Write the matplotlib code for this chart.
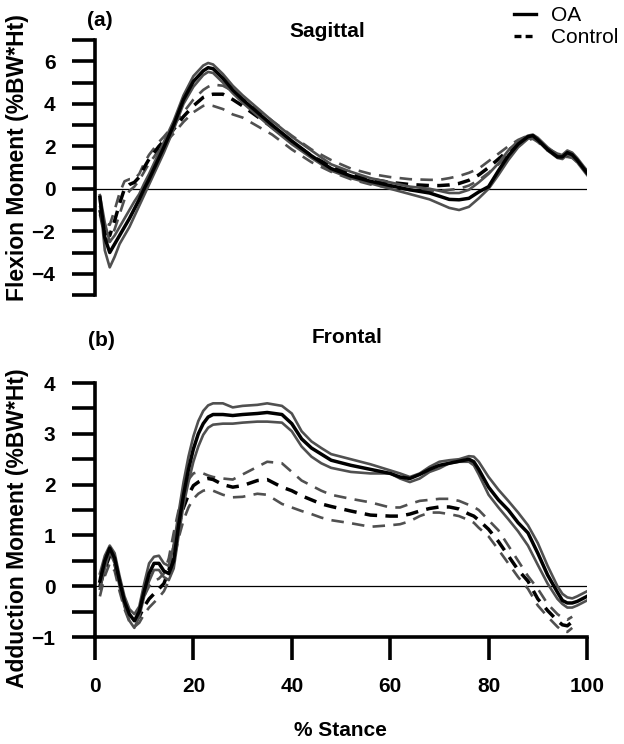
import matplotlib
matplotlib.use("Agg")
import matplotlib.pyplot as plt
from matplotlib.lines import Line2D
from matplotlib.ticker import FixedLocator, MultipleLocator

plt.rcParams["font.family"] = ["Liberation Sans", "DejaVu Sans"]
plt.rcParams["font.weight"] = "bold"
plt.rcParams["font.size"] = 15
plt.rcParams["lines.scale_dashes"] = False

# ---- (a) Sagittal: flexion moment (%BW*Ht) ----
x_sag = [1, 2, 3, 4, 5, 6, 7, 8, 9, 10, 11, 12, 13, 14, 16, 18, 20, 22, 23, 24,
         26, 28, 30, 33, 36, 40, 44, 48, 52, 56, 60, 64, 68, 70, 72, 74, 76, 78,
         80, 82, 84, 86, 88, 89, 90, 92, 94, 95, 96, 97, 98, 100]
sag_oa = [-0.4, -2.3, -3.0, -2.6, -2.2, -1.8, -1.4, -0.95, -0.5, 0.0, 0.45, 0.95,
          1.45, 1.95, 3.0, 4.2, 5.05, 5.55, 5.7, 5.65, 5.2, 4.65, 4.2, 3.6, 3.0,
          2.25, 1.55, 0.95, 0.6, 0.35, 0.15, -0.05, -0.2, -0.35, -0.5, -0.52,
          -0.45, -0.15, 0.1, 0.85, 1.55, 2.1, 2.45, 2.5, 2.3, 1.85, 1.5, 1.5,
          1.7, 1.6, 1.35, 0.75]
sag_oa_hi = [-0.3, -1.6, -2.5, -2.2, -1.8, -1.4, -1.0, -0.6, -0.25, 0.25, 0.7,
             1.2, 1.7, 2.2, 3.2, 4.4, 5.3, 5.8, 5.92, 5.85, 5.4, 4.85, 4.4, 3.8,
             3.2, 2.45, 1.8, 1.15, 0.8, 0.5, 0.3, 0.1, 0.0, -0.1, -0.2, -0.2,
             -0.05, 0.3, 0.7, 1.2, 1.8, 2.25, 2.5, 2.55, 2.4, 1.95, 1.6, 1.6,
             1.8, 1.7, 1.45, 0.85]
sag_oa_lo = [-0.5, -2.9, -3.7, -3.2, -2.6, -2.2, -1.8, -1.3, -0.8, -0.3, 0.2,
             0.7, 1.2, 1.7, 2.8, 4.0, 4.8, 5.35, 5.5, 5.45, 5.0, 4.5, 4.05, 3.45,
             2.85, 2.1, 1.45, 0.85, 0.5, 0.25, 0.0, -0.25, -0.5, -0.7, -0.9,
             -1.0, -0.85, -0.45, 0.0, 0.65, 1.35, 1.95, 2.35, 2.4, 2.25, 1.8,
             1.45, 1.4, 1.6, 1.5, 1.25, 0.65]
sag_con = [-1.0, -2.0, -2.2, -1.5, -0.7, 0.0, 0.2, 0.3, 0.55, 1.0, 1.4, 1.7,
           2.0, 2.25, 2.8, 3.4, 3.9, 4.3, 4.4, 4.45, 4.45, 4.2, 3.9, 3.4, 2.9,
           2.2, 1.55, 1.05, 0.7, 0.45, 0.3, 0.2, 0.15, 0.15, 0.18, 0.25, 0.4,
           0.65, 1.0, 1.4, 1.8, 2.15, 2.4, 2.45, 2.3, 1.85, 1.6, 1.55, 1.6,
           1.55, 1.3, 0.8]
sag_con_hi = [-0.8, -1.6, -1.7, -1.0, -0.2, 0.35, 0.45, 0.45, 0.7, 1.2, 1.6,
              1.9, 2.2, 2.45, 3.0, 3.6, 4.2, 4.65, 4.8, 4.9, 4.85, 4.6, 4.25,
              3.75, 3.2, 2.5, 1.85, 1.35, 0.95, 0.7, 0.55, 0.45, 0.42, 0.42,
              0.5, 0.6, 0.75, 0.95, 1.3, 1.65, 2.0, 2.3, 2.5, 2.5, 2.35, 1.9,
              1.65, 1.6, 1.7, 1.6, 1.35, 0.85]
sag_con_lo = [-1.2, -2.3, -2.5, -1.9, -1.2, -0.5, -0.1, 0.1, 0.4, 0.8, 1.2,
              1.5, 1.85, 2.1, 2.6, 3.15, 3.6, 3.9, 3.95, 3.9, 3.75, 3.5, 3.35,
              2.95, 2.55, 1.85, 1.25, 0.8, 0.45, 0.2, 0.05, -0.05, -0.1, -0.1,
              -0.05, 0.0, 0.15, 0.4, 0.75, 1.15, 1.6, 2.0, 2.3, 2.35, 2.2, 1.8,
              1.55, 1.5, 1.5, 1.45, 1.25, 0.75]

# ---- (b) Frontal: adduction moment (%BW*Ht) ----
x_fro = [1, 2, 3, 4, 5, 6, 7, 8, 9, 10, 11, 12, 13, 14, 15, 16, 17, 18, 19, 20,
         21, 22, 23, 24, 26, 28, 30, 33, 35, 38, 40, 42, 44, 46, 48, 52, 56, 60,
         62, 64, 66, 68, 70, 72, 74, 76, 77, 78, 80, 82, 84, 86, 88, 90, 92, 94,
         95, 96, 97, 98, 99, 100]
fro_oa = [0.1, 0.5, 0.75, 0.55, 0.1, -0.3, -0.55, -0.68, -0.5, -0.1, 0.25,
          0.45, 0.45, 0.3, 0.25, 0.5, 1.2, 1.8, 2.3, 2.7, 3.0, 3.2, 3.33, 3.38,
          3.38, 3.36, 3.38, 3.4, 3.42, 3.38, 3.2, 2.9, 2.72, 2.6, 2.48, 2.38,
          2.3, 2.22, 2.15, 2.12, 2.2, 2.3, 2.38, 2.42, 2.46, 2.5, 2.45, 2.3,
          1.95, 1.7, 1.5, 1.25, 1.05, 0.65, 0.22, -0.12, -0.28, -0.33, -0.33,
          -0.3, -0.25, -0.2]
fro_oa_hi = [0.25, 0.6, 0.8, 0.65, 0.2, -0.2, -0.45, -0.55, -0.4, 0.05, 0.45,
             0.58, 0.6, 0.45, 0.4, 0.8, 1.45, 2.05, 2.55, 2.95, 3.25, 3.45,
             3.56, 3.6, 3.6, 3.52, 3.55, 3.57, 3.6, 3.55, 3.4, 3.05, 2.85, 2.72,
             2.6, 2.5, 2.4, 2.28, 2.22, 2.15, 2.22, 2.35, 2.45, 2.48, 2.5, 2.56,
             2.55, 2.45, 2.15, 1.9, 1.68, 1.45, 1.2, 0.85, 0.4, 0.0, -0.15,
             -0.22, -0.24, -0.2, -0.15, -0.1]
fro_oa_lo = [-0.05, 0.35, 0.68, 0.45, 0.0, -0.4, -0.68, -0.82, -0.6, -0.2, 0.1,
             0.32, 0.32, 0.18, 0.12, 0.35, 1.0, 1.6, 2.05, 2.45, 2.75, 2.98,
             3.12, 3.18, 3.2, 3.2, 3.22, 3.24, 3.24, 3.22, 3.05, 2.75, 2.55,
             2.42, 2.33, 2.25, 2.22, 2.22, 2.12, 2.05, 2.12, 2.25, 2.32, 2.42,
             2.45, 2.45, 2.38, 2.2, 1.8, 1.55, 1.32, 1.08, 0.8, 0.42, 0.05,
             -0.25, -0.35, -0.42, -0.42, -0.38, -0.33, -0.28]
x_fro_con = x_fro[:59]
fro_con = [0.0, 0.35, 0.6, 0.45, 0.05, -0.35, -0.6, -0.7, -0.6, -0.4, -0.25,
           -0.15, -0.05, 0.05, 0.3, 0.75, 1.2, 1.55, 1.8, 1.98, 2.05, 2.1, 2.12,
           2.1, 2.0, 1.95, 1.98, 2.08, 2.1, 1.95, 1.88, 1.78, 1.7, 1.62, 1.57,
           1.48, 1.4, 1.38, 1.38, 1.42, 1.48, 1.53, 1.56, 1.56, 1.52, 1.42,
           1.38, 1.3, 1.12, 0.88, 0.6, 0.32, 0.1, -0.25, -0.48, -0.68, -0.76,
           -0.78, -0.7]
fro_con_hi = [0.15, 0.5, 0.72, 0.55, 0.15, -0.25, -0.5, -0.58, -0.45, -0.2,
              0.0, 0.1, 0.15, 0.25, 0.55, 1.05, 1.5, 1.85, 2.1, 2.22, 2.25,
              2.22, 2.18, 2.15, 2.12, 2.1, 2.2, 2.35, 2.45, 2.42, 2.25, 2.08,
              1.98, 1.88, 1.8, 1.72, 1.65, 1.55, 1.55, 1.62, 1.68, 1.7, 1.72,
              1.72, 1.68, 1.6, 1.56, 1.5, 1.3, 1.1, 0.8, 0.5, 0.2, -0.05, -0.35,
              -0.55, -0.62, -0.66, -0.6]
fro_con_lo = [-0.2, 0.2, 0.45, 0.3, -0.1, -0.45, -0.7, -0.8, -0.72, -0.55,
              -0.42, -0.32, -0.22, -0.1, 0.1, 0.5, 0.95, 1.3, 1.55, 1.72, 1.82,
              1.88, 1.9, 1.88, 1.8, 1.75, 1.76, 1.82, 1.8, 1.62, 1.55, 1.48,
              1.42, 1.35, 1.3, 1.24, 1.17, 1.2, 1.22, 1.28, 1.38, 1.45, 1.45,
              1.42, 1.38, 1.3, 1.25, 1.15, 0.98, 0.72, 0.45, 0.18, -0.05, -0.38,
              -0.6, -0.8, -0.88, -0.9, -0.82]

gray = "#505050"
dash = (0, (9, 6))
lw_mean = 2.5
lw_se = 1.9


def draw_panel(ax, x, oa, oa_hi, oa_lo, xc, con, con_hi, con_lo):
    ax.axhline(0, color="black", lw=0.9, zorder=1)
    ax.plot(xc, con_hi, color=gray, lw=lw_se, ls=dash)
    ax.plot(xc, con_lo, color=gray, lw=lw_se, ls=dash)
    ax.plot(xc, con, color="black", lw=lw_mean, ls=dash)
    ax.plot(x, oa_hi, color=gray, lw=lw_se)
    ax.plot(x, oa_lo, color=gray, lw=lw_se)
    ax.plot(x, oa, color="black", lw=lw_mean)
    ax.set_xlim(0, 100)
    for s in ["top", "right"]:
        ax.spines[s].set_visible(False)
    for s in ["left", "bottom"]:
        ax.spines[s].set_linewidth(2.6)
    ax.tick_params(which="both", direction="out", length=16.5, width=2.6)
    ax.tick_params(axis="y", pad=12)
    ax.tick_params(axis="x", pad=12)


fig = plt.figure(figsize=(6.24, 7.44), dpi=100)
ax1 = fig.add_axes([0.1522, 0.6035, 0.7885, 0.3427])
ax2 = fig.add_axes([0.1522, 0.1438, 0.7885, 0.3414])

draw_panel(ax1, x_sag, sag_oa, sag_oa_hi, sag_oa_lo,
           x_sag, sag_con, sag_con_hi, sag_con_lo)
ax1.set_ylim(-5, 7)
ax1.yaxis.set_major_locator(FixedLocator([-4, -2, 0, 2, 4, 6]))
ax1.yaxis.set_minor_locator(FixedLocator([-5, -3, -1, 1, 3, 5, 7]))
ax1.spines["bottom"].set_visible(False)
ax1.tick_params(axis="x", which="both", bottom=False, labelbottom=False)

draw_panel(ax2, x_fro, fro_oa, fro_oa_hi, fro_oa_lo,
           x_fro_con, fro_con, fro_con_hi, fro_con_lo)
ax2.set_ylim(-1, 4)
ax2.yaxis.set_major_locator(MultipleLocator(1))
ax2.yaxis.set_minor_locator(MultipleLocator(0.5))
ax2.xaxis.set_major_locator(MultipleLocator(20))

fig.text(0.160, 0.972, "(a)", ha="center", va="center")
fig.text(0.524, 0.958, "Sagittal", ha="center", va="center")
fig.text(0.163, 0.542, "(b)", ha="center", va="center")
fig.text(0.556, 0.546, "Frontal", ha="center", va="center")
fig.text(0.028, 1 - 158 / 744, "Flexion Moment (%BW*Ht)",
         rotation=90, ha="center", va="center", fontsize=16.5)
fig.text(0.028, 1 - 528 / 744, "Adduction Moment (%BW*Ht)",
         rotation=90, ha="center", va="center", fontsize=16.5)
fig.text(0.546, 1 - 731 / 744, "% Stance", ha="center", va="center")

handles = [Line2D([], [], color="black", lw=2.4),
           Line2D([], [], color="black", lw=2.4, ls=(0, (5, 3)))]
fig.legend(handles, ["OA", "Control"], loc="upper right",
           bbox_to_anchor=(618 / 624, 1 - 6 / 744), frameon=False,
           prop={"size": 15, "weight": "normal"}, handlelength=1.05,
           handletextpad=0.7, labelspacing=0.15, borderpad=0,
           borderaxespad=0)

fig.savefig("out.png", dpi=100)
